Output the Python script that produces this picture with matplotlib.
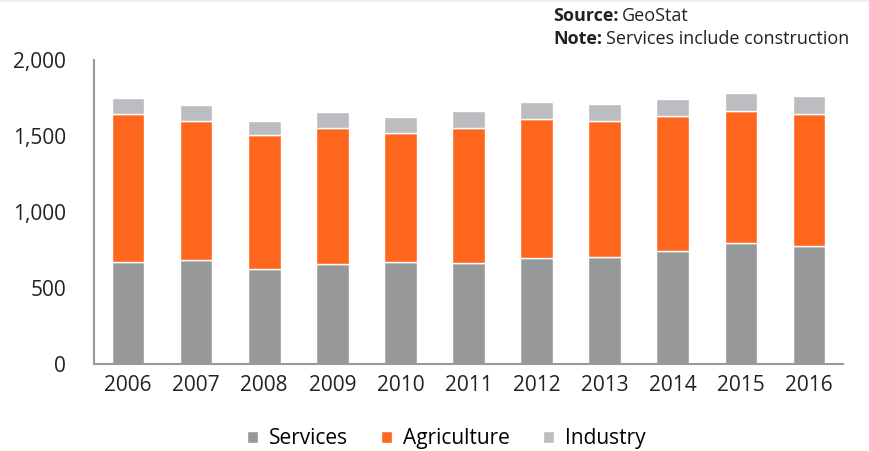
import matplotlib.pyplot as plt
import numpy as np
from matplotlib.ticker import FuncFormatter

plt.rcParams["font.family"] = ["Open Sans", "DejaVu Sans"]

years = ["2006", "2007", "2008", "2009", "2010", "2011",
         "2012", "2013", "2014", "2015", "2016"]
services = [673, 682, 625, 658, 669, 664, 700, 706, 741, 794, 776]
agriculture = [970, 917, 880, 897, 853, 886, 912, 891, 893, 868, 871]
industry = [105, 105, 96, 101, 105, 112, 114, 116, 112, 119, 118]

col_services = "#97989a"
col_agri = "#ff671f"
col_industry = "#bcbdc0"
txt = "#222222"

fig = plt.figure(figsize=(8.7, 4.51), dpi=100)
ax = fig.add_axes([0.108, 0.193, 0.861, 0.674])

x = np.arange(len(years))
w = 0.48
services = np.array(services)
agriculture = np.array(agriculture)
industry = np.array(industry)

ax.bar(x, services, w, color=col_services, edgecolor="white", linewidth=1, label="Services")
ax.bar(x, agriculture, w, bottom=services, color=col_agri, edgecolor="white",
       linewidth=1, label="Agriculture")
ax.bar(x, industry, w, bottom=services + agriculture, color=col_industry,
       edgecolor="white", linewidth=1, label="Industry")

ax.set_xlim(-0.5, len(years) - 0.5)
ax.set_ylim(0, 2000)
ax.set_yticks([0, 500, 1000, 1500, 2000])
ax.yaxis.set_major_formatter(FuncFormatter(lambda v, p: f"{int(v):,}"))
ax.set_xticks(x)
ax.set_xticklabels(years)

for side in ["top", "right"]:
    ax.spines[side].set_visible(False)
for side in ["left", "bottom"]:
    ax.spines[side].set_color("#999999")
    ax.spines[side].set_linewidth(1.5)

ax.tick_params(axis="both", length=0, labelsize=15, colors=txt)
ax.tick_params(axis="y", pad=20)
ax.tick_params(axis="x", pad=8)

ax.legend(loc="upper center", bbox_to_anchor=(0.47, -0.15), ncol=3,
          frameon=False, fontsize=15, handlelength=0.55, handleheight=0.55,
          columnspacing=1.6, handletextpad=0.5)


# Source / note block, bold label followed by regular text
def label_line(y, bold, rest):
    t = fig.text(0.636, y, bold, fontsize=13, fontweight="bold", va="center",
                 ha="left", color=txt)
    fig.canvas.draw()
    bb = t.get_window_extent()
    x1 = bb.x1 / fig.bbox.width
    fig.text(x1 + 0.004, y, rest, fontsize=13, va="center", ha="left", color=txt)


label_line(0.965, "Source:", "GeoStat")
label_line(0.913, "Note:", "Services include construction")

fig.add_artist(plt.Line2D([0, 1], [0.997, 0.997], color="#eeeeee", linewidth=1.5))

fig.savefig("out.png", dpi=100)
